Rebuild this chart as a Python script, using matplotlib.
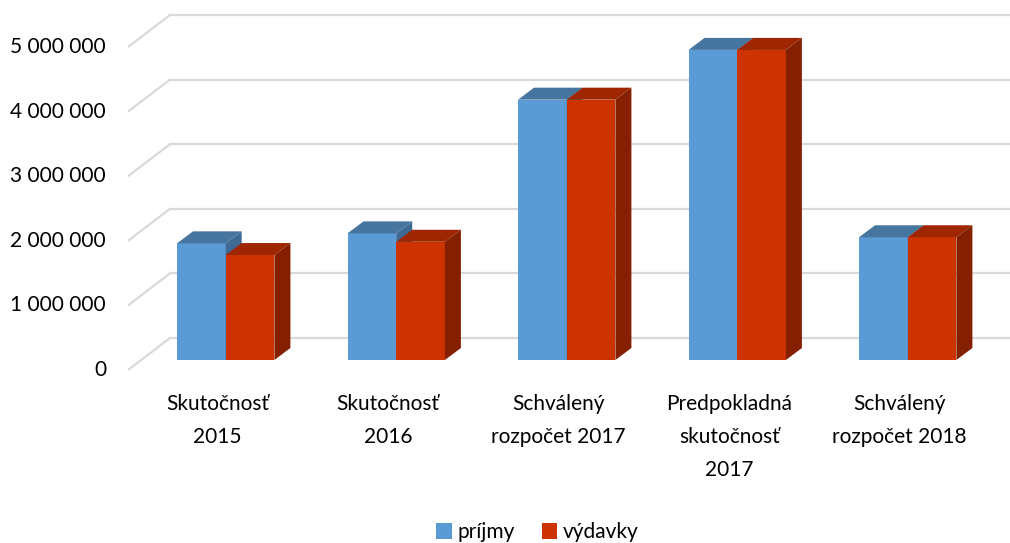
import matplotlib
matplotlib.use('Agg')
import matplotlib.pyplot as plt
from matplotlib.patches import Polygon, Rectangle, Patch

plt.rcParams['font.family'] = ['Lato', 'DejaVu Sans']

# --- data ---
categories = ['Skutočnosť\n2015', 'Skutočnosť\n2016', 'Schválený\nrozpočet 2017',
              'Predpokladná\nskutočnosť\n2017', 'Schválený\nrozpočet 2018']
prijmy = [1806000, 1960000, 4030000, 4800000, 1900000]
vydavky = [1625000, 1830000, 4030000, 4800000, 1900000]
series_names = ['príjmy', 'výdavky']
y_ticks = [0, 1000000, 2000000, 3000000, 4000000, 5000000]
y_tick_labels = ['0', '1 000 000', '2 000 000', '3 000 000', '4 000 000', '5 000 000']

# colours: front, top, side
BLUE = ('#5B9BD5', '#4676A0', '#3E6A93')
RED = ('#CC3300', '#9E2600', '#842000')
GRID = '#D9D9D9'
FS = 15

# pixel -> data conversion (1 category = 170.5 px, 1 000 000 = 64.6 px)
PX_X = 1 / 170.5
PX_Y = 1e6 / 64.6

BAR_W = 48.7 * PX_X
DEPTH_X, DEPTH_Y = 16 * PX_X, 12 * PX_Y          # bar depth
FRONT_X, FRONT_Y = -13 * PX_X, -10 * PX_Y        # floor front relative to bar plane
BACK_X, BACK_Y = 29 * PX_X, 22 * PX_Y            # back wall relative to bar plane
WALL_LEFT = -0.573                               # left edge of floor front

fig = plt.figure(figsize=(10.10, 5.43), dpi=100)
ax = fig.add_axes([0, 0, 1, 1])
ax.set_xlim(-225.7 * PX_X, (1010 - 225.7) * PX_X)
ax.set_ylim(-183 * PX_Y, (543 - 183) * PX_Y)
ax.axis('off')

# grid: side wall diagonals + back wall lines
for v, lab in zip(y_ticks, y_tick_labels):
    x0, y0 = WALL_LEFT, v + FRONT_Y
    x1, y1 = WALL_LEFT + (BACK_X - FRONT_X), v + BACK_Y
    ax.plot([x0, x1], [y0, y1], color=GRID, lw=1.6, solid_capstyle='butt', zorder=1)
    ax.plot([x1, ax.get_xlim()[1]], [y1, y1], color=GRID, lw=1.6, zorder=1)
    ax.text(-0.702, y0, lab, ha='right', va='center', fontsize=FS, color='#000000')


def draw_bar(x, h, cols):
    front, top, side = cols
    ax.add_patch(Rectangle((x, 0), BAR_W, h, facecolor=front, edgecolor='none', zorder=3))
    ax.add_patch(Polygon([(x, h), (x + BAR_W, h), (x + BAR_W + DEPTH_X, h + DEPTH_Y),
                          (x + DEPTH_X, h + DEPTH_Y)], closed=True,
                         facecolor=top, edgecolor='none', zorder=3))
    ax.add_patch(Polygon([(x + BAR_W, 0), (x + BAR_W + DEPTH_X, DEPTH_Y),
                          (x + BAR_W + DEPTH_X, h + DEPTH_Y), (x + BAR_W, h)], closed=True,
                         facecolor=side, edgecolor='none', zorder=3))


for i in range(len(categories)):
    draw_bar(i - BAR_W, prijmy[i], BLUE)
    draw_bar(i, vydavky[i], RED)
    ax.text(i - 8 * PX_X, -34 * PX_Y, categories[i], ha='center', va='top',
            fontsize=FS, linespacing=1.8, color='#000000')

handles = [Patch(facecolor=BLUE[0]), Patch(facecolor=RED[0])]
fig.legend(handles, series_names, loc='lower center', ncol=2, frameon=False,
           fontsize=FS, handlelength=0.75, handleheight=0.75, handletextpad=0.25,
           columnspacing=1.3, bbox_to_anchor=(0.532, -0.033))

fig.savefig('out.png', dpi=100)
